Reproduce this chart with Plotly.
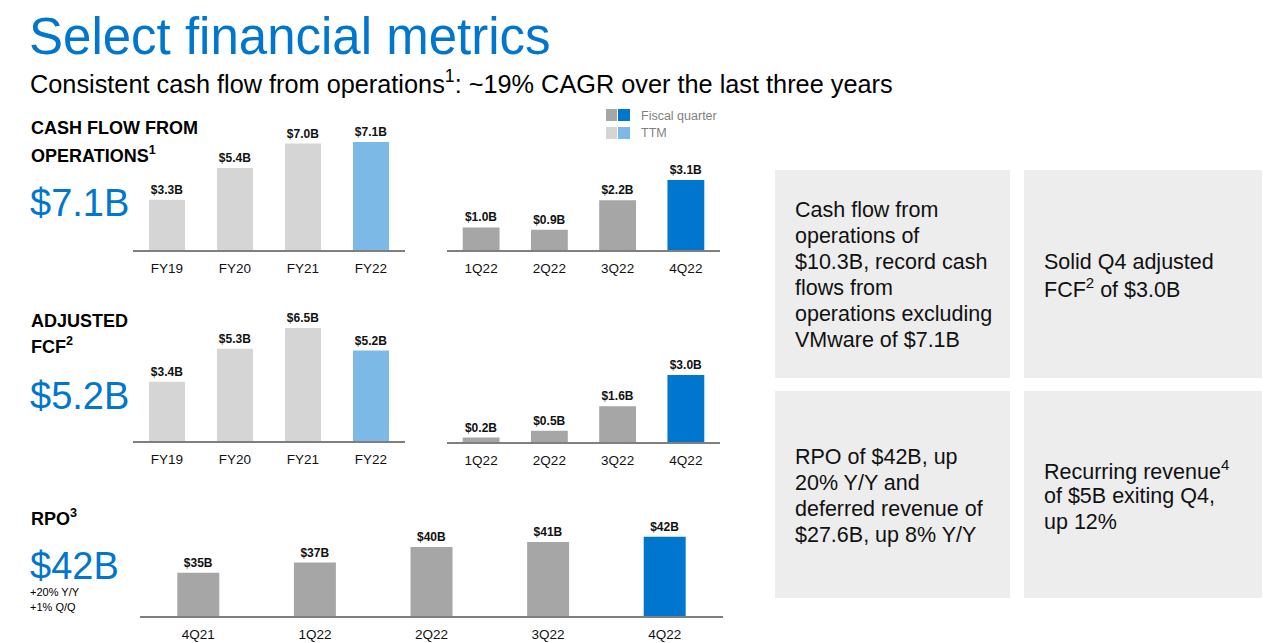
import plotly.graph_objects as go

# ---------------- data ----------------
annual_years = ["FY19", "FY20", "FY21", "FY22"]
cfo_annual = [3.3, 5.4, 7.0, 7.1]
fcf_annual = [3.4, 5.3, 6.5, 5.2]

quarters = ["1Q22", "2Q22", "3Q22", "4Q22"]
cfo_quarter = [1.0, 0.9, 2.2, 3.1]
fcf_quarter = [0.2, 0.5, 1.6, 3.0]

rpo_quarters = ["4Q21", "1Q22", "2Q22", "3Q22", "4Q22"]
rpo_values = [35, 37, 40, 41, 42]

box_texts = [
    ["Cash flow from", "operations of", "$10.3B, record cash", "flows from",
     "operations excluding", "VMware of $7.1B"],
    ["Solid Q4 adjusted", "FCF<sup>2</sup> of $3.0B"],
    ["RPO of $42B, up", "20% Y/Y and", "deferred revenue of", "$27.6B, up 8% Y/Y"],
    ["Recurring revenue<sup>4</sup>", "of $5B exiting Q4,", "up 12%"],
]

# ---------------- style ----------------
W, H = 1280, 643
FONT = "Liberation Sans, Arial, Helvetica, sans-serif"
BLUE = "#0076CE"
LBLUE = "#7DB9E6"
GRAY = "#A6A6A6"
LGRAY = "#D5D5D5"
AXIS = "#7F7F7F"


def px(x):
    return x / W


def py(y):
    return 1 - y / H


def colors(n, base, last):
    return [base] * (n - 1) + [last]


fig = go.Figure()

panels = [
    # (x cats, values, label fmt, base color, last color, x0, x1, baseline, yrange, width, px per unit)
    (annual_years, cfo_annual, "${:.1f}B", LGRAY, LBLUE, 133, 405, 250, [0, 8], 0.53, 15.2),
    (quarters, cfo_quarter, "${:.1f}B", GRAY, BLUE, 447, 720, 250, [0, 4], 0.54, 22.6),
    (annual_years, fcf_annual, "${:.1f}B", LGRAY, LBLUE, 133, 405, 441, [0, 8], 0.53, 17.4),
    (quarters, fcf_quarter, "${:.1f}B", GRAY, BLUE, 447, 720, 442, [0, 4], 0.54, 22.3),
    (rpo_quarters, rpo_values, "${:.0f}B", GRAY, BLUE, 140, 723, 616, [26.6, 44], 0.36, 5.14),
]

for i, (cats, vals, fmt, c0, c1, x0, x1, base, yr, bw, sc) in enumerate(panels):
    k = "" if i == 0 else str(i + 1)
    top = base - (yr[1] - yr[0]) * sc
    fig.add_trace(go.Bar(
        x=cats, y=vals,
        marker=dict(color=colors(len(vals), c0, c1), line=dict(width=0)),
        width=bw,
        text=[fmt.format(v) for v in vals],
        textposition="outside",
        textfont=dict(size=12, color="#111111", family=FONT, weight="bold"),
        cliponaxis=False,
        xaxis="x" + k, yaxis="y" + k,
        showlegend=False, hoverinfo="skip",
    ))
    fig.update_layout(**{
        "xaxis" + k: dict(domain=[px(x0), px(x1)], anchor="y" + k,
                          showline=True, linecolor=AXIS, linewidth=1.5,
                          ticks="outside", ticklen=5, tickcolor="rgba(0,0,0,0)",
                          tickfont=dict(size=13.5, color="#111111", family=FONT),
                          showgrid=False, fixedrange=True,
                          range=[-0.5, len(cats) - 0.5]),
        "yaxis" + k: dict(domain=[py(base), py(top)], anchor="x" + k,
                          range=yr, visible=False, showgrid=False,
                          zeroline=False, fixedrange=True),
    })

ann = []


def text(x, y, s, size, color="#000000", bold=False, xanchor="left"):
    ann.append(dict(x=px(x), y=py(y), xref="paper", yref="paper", text=s,
                    showarrow=False, xanchor=xanchor, yanchor="middle",
                    font=dict(size=size, color=color, family=FONT,
                              weight="bold" if bold else "normal")))


# title / subtitle
text(27, 36, "Select financial metrics", 51, BLUE)
text(28, 82, "Consistent cash flow from operations<sup>1</sup>: ~19% CAGR over the last three years", 25.3)

# left labels
text(29, 128, "CASH FLOW FROM", 18, bold=True)
text(29, 154, "OPERATIONS<sup>1</sup>", 18, bold=True)
text(28, 203, "$7.1B", 38, BLUE)
text(29, 321, "ADJUSTED", 18, bold=True)
text(29, 346, "FCF<sup>2</sup>", 18, bold=True)
text(28, 396, "$5.2B", 38, BLUE)
text(29, 517, "RPO<sup>3</sup>", 18, bold=True)
text(28, 566, "$42B", 38, BLUE)
text(28, 592, "+20% Y/Y", 11)
text(28, 607, "+1% Q/Q", 11)

# legend
shapes = []
for (yy, ca, cb) in [(115, GRAY, BLUE), (133, LGRAY, LBLUE)]:
    shapes.append(dict(type="rect", xref="paper", yref="paper",
                       x0=px(606), x1=px(617), y0=py(yy - 6), y1=py(yy + 6),
                       fillcolor=ca, line=dict(width=0)))
    shapes.append(dict(type="rect", xref="paper", yref="paper",
                       x0=px(618), x1=px(630), y0=py(yy - 6), y1=py(yy + 6),
                       fillcolor=cb, line=dict(width=0)))
text(639, 116, "Fiscal quarter", 12.5, "#7F7F7F")
text(639, 133, "TTM", 12.5, "#7F7F7F")

# boxes
boxes = [(775, 1010, 170, 378), (1024, 1262, 170, 378),
         (775, 1010, 391, 598), (1024, 1262, 391, 598)]
for (x0, x1, y0, y1), lines in zip(boxes, box_texts):
    shapes.append(dict(type="rect", xref="paper", yref="paper",
                       x0=px(x0), x1=px(x1), y0=py(y1), y1=py(y0),
                       fillcolor="#EDEDED", line=dict(width=0), layer="below"))
    n = len(lines)
    yc = (y0 + y1) / 2
    step = 26
    for j, s in enumerate(lines):
        text(x0 + 18, yc + 1 + (j - (n - 1) / 2) * step, s, 21.5, "#111111")

fig.update_layout(
    width=W, height=H,
    margin=dict(l=0, r=0, t=0, b=0),
    paper_bgcolor="white", plot_bgcolor="white",
    annotations=ann, shapes=shapes,
    bargap=0.2,
    font=dict(family=FONT),
)

fig.write_html("out.html",
               config={"displayModeBar": False, "staticPlot": True},
               post_script="document.body.style.margin='0';document.body.style.overflow='hidden';")
